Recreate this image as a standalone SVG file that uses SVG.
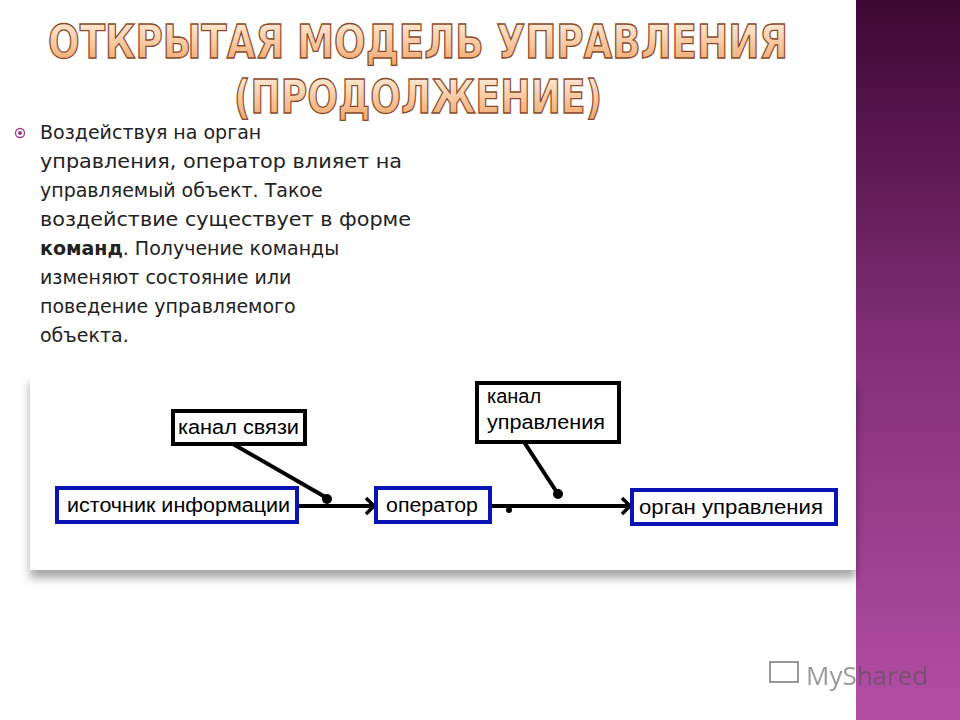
<svg xmlns="http://www.w3.org/2000/svg" width="960" height="720" viewBox="0 0 960 720">
<defs>
<linearGradient id="side" x1="0" y1="0" x2="0" y2="1"><stop offset="0" stop-color="#3e0733"/><stop offset="0.5" stop-color="#85307a"/><stop offset="1" stop-color="#b34ea5"/></linearGradient>
<linearGradient id="tg" x1="0" y1="0" x2="0" y2="1"><stop offset="0" stop-color="#fff4e6"/><stop offset="1" stop-color="#f0a060"/></linearGradient>
<filter id="sh" x="-5%" y="-10%" width="110%" height="130%"><feDropShadow dx="0" dy="8" stdDeviation="5" flood-color="#000" flood-opacity="0.35"/></filter>
<marker id="chev" viewBox="0 0 12 20" refX="10" refY="10" markerWidth="12" markerHeight="20" markerUnits="userSpaceOnUse" orient="auto"><path d="M2,2 L10,10 L2,18" fill="none" stroke="#000" stroke-width="3.5"/></marker>
</defs>
<style>
.t{font-family:"DejaVu Sans Condensed","Liberation Sans Narrow",sans-serif;font-weight:bold;font-size:46px;fill:url(#tg);stroke:#8a4a2a;stroke-width:1.3;text-anchor:middle}
.b{font-family:"DejaVu Sans","Liberation Sans",sans-serif;font-size:19px;fill:#222}
.l{font-family:"Liberation Sans Narrow","Liberation Sans",Arial,sans-serif;font-size:20px;fill:#000}
.bk{fill:#fff;stroke:#000;stroke-width:4}
.bl{fill:#fff;stroke:#0a14b4;stroke-width:4}
.c{stroke:#000;stroke-width:4;fill:none}
</style>
<rect width="960" height="720" fill="#fff"/>
<rect x="856" y="0" width="104" height="720" fill="url(#side)"/>
<g id="title">
<text class="t" x="418" y="58" textLength="740" lengthAdjust="spacingAndGlyphs">ОТКРЫТАЯ МОДЕЛЬ УПРАВЛЕНИЯ</text>
<text class="t" x="418" y="113" textLength="368" lengthAdjust="spacingAndGlyphs">(ПРОДОЛЖЕНИЕ)</text>
</g>
<g id="body">
<circle cx="20" cy="133" r="4.5" fill="none" stroke="#a0388e" stroke-width="1.3"/><circle cx="20" cy="133" r="2" fill="#a0388e"/>
<text class="b" x="40" y="139">Воздействуя на орган</text>
<text class="b" x="40" y="168" textLength="362" lengthAdjust="spacingAndGlyphs">управления, оператор влияет на</text>
<text class="b" x="40" y="197">управляемый объект. Такое</text>
<text class="b" x="40" y="226" textLength="371" lengthAdjust="spacingAndGlyphs">воздействие существует в форме</text>
<text class="b" x="40" y="255"><tspan font-weight="bold">команд</tspan>. Получение команды</text>
<text class="b" x="40" y="284">изменяют состояние или</text>
<text class="b" x="40" y="313">поведение управляемого</text>
<text class="b" x="40" y="342">объекта.</text>
</g>
<rect x="30" y="375" width="826" height="195" fill="#fff" filter="url(#sh)"/>
<g id="connectors">
<line class="c" x1="297" y1="506" x2="374" y2="506" marker-end="url(#chev)"/>
<line class="c" x1="490" y1="506" x2="630" y2="506" marker-end="url(#chev)"/>
<line class="c" x1="233" y1="444" x2="327" y2="498"/><circle cx="327" cy="499" r="5"/>
<line class="c" x1="524" y1="442" x2="558" y2="494"/><circle cx="558" cy="494" r="5"/>
<circle cx="509" cy="510" r="3"/>
</g>
<g id="kanal-svyazi"><rect class="bk" x="173" y="411" width="132" height="33"/><text class="l" x="178" y="434" textLength="121" lengthAdjust="spacingAndGlyphs">канал связи</text></g>
<g id="kanal-upr"><rect class="bk" x="477" y="383" width="142" height="59"/><text class="l" x="487" y="403">канал</text><text class="l" x="487" y="429" textLength="118" lengthAdjust="spacingAndGlyphs">управления</text></g>
<g id="istochnik"><rect class="bl" x="57" y="488" width="240" height="34"/><text class="l" x="67" y="512" textLength="223" lengthAdjust="spacingAndGlyphs">источник информации</text></g>
<g id="operator"><rect class="bl" x="376" y="488" width="114" height="34"/><text class="l" x="386" y="512" textLength="92" lengthAdjust="spacingAndGlyphs">оператор</text></g>
<g id="organ"><rect class="bl" x="632" y="490" width="204" height="34"/><text class="l" x="639" y="514" textLength="184" lengthAdjust="spacingAndGlyphs">орган управления</text></g>
<g id="logo" opacity="0.6"><rect x="770" y="662" width="28" height="20" fill="none" stroke="#555" stroke-width="2"/><text x="806" y="685" font-family="'Open Sans','Liberation Sans',sans-serif" font-size="26" fill="#555">MyShared</text></g>
</svg>
